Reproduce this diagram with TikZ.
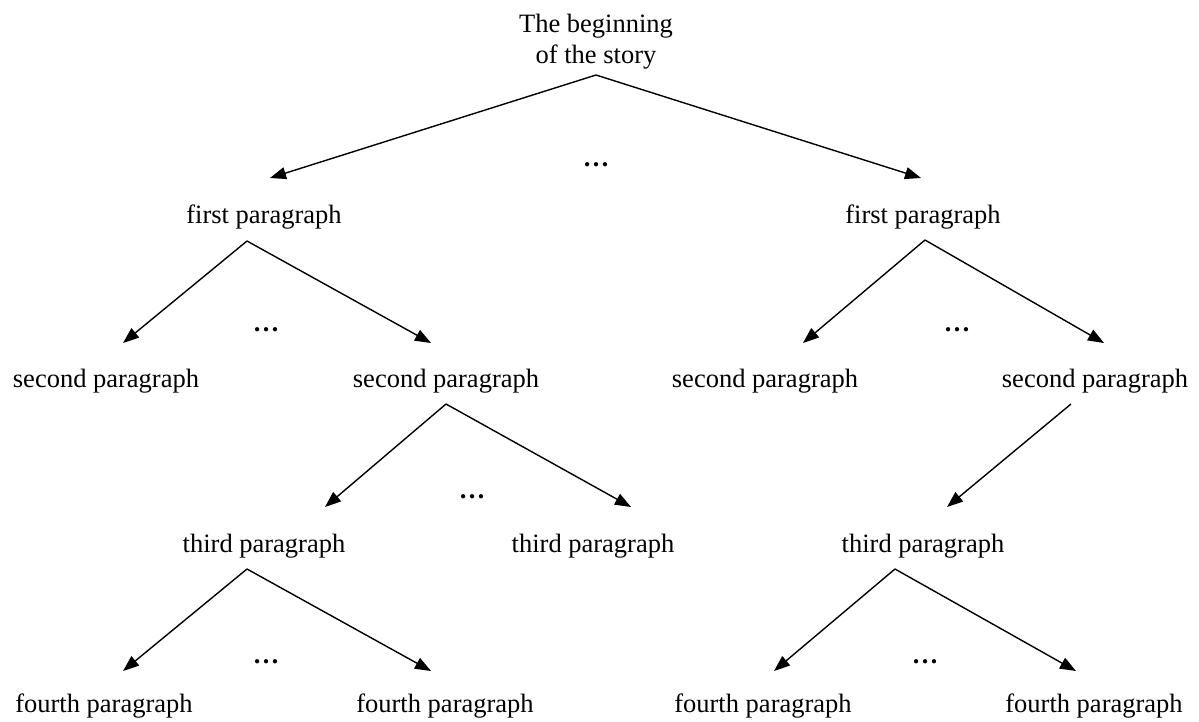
\documentclass[tikz,border=0pt]{standalone}
\usepackage{fontspec}
\setmainfont{Liberation Serif}
\usetikzlibrary{arrows.meta}
\tikzset{
  lbl/.style={anchor=base, inner sep=0pt, font=\fontsize{26.5}{31}\selectfont},
  dotsl/.style={anchor=base, inner sep=0pt, font=\fontsize{26.5}{31}\selectfont\bfseries},
  conn/.style={line width=1.4pt, -{Triangle[length=16pt,width=12pt]}}
}
\begin{document}
\begin{tikzpicture}[x=1pt,y=-1pt]
\useasboundingbox[fill=white] (0,0) rectangle (1199,721);
% nodes
\node[lbl] (root) at (596,32) {\setlength\tabcolsep{0pt}\begin{tabular}[t]{c}The beginning\\of the story\end{tabular}};
\node[lbl] (fpL) at (264,223) {first paragraph};
\node[lbl] (fpR) at (923,223) {first paragraph};
\node[lbl] (spA) at (106,387) {second paragraph};
\node[lbl] (spB) at (446,387) {second paragraph};
\node[lbl] (spC) at (765,387) {second paragraph};
\node[lbl] (spD) at (1095,387) {second paragraph};
\node[lbl] (tpA) at (264,552) {third paragraph};
\node[lbl] (tpB) at (593,552) {third paragraph};
\node[lbl] (tpC) at (923,552) {third paragraph};
\node[lbl] (fhA) at (104,712) {fourth paragraph};
\node[lbl] (fhB) at (445,712) {fourth paragraph};
\node[lbl] (fhC) at (763,712) {fourth paragraph};
\node[lbl] (fhD) at (1094,712) {fourth paragraph};
% ellipses
\node[dotsl] (d0) at (596,166) {…};
\node[dotsl] (d1) at (266,331) {…};
\node[dotsl] (d2) at (957,331) {…};
\node[dotsl] (d3) at (472,498) {…};
\node[dotsl] (d4) at (266,663) {…};
\node[dotsl] (d5) at (925,663) {…};
% connector end points
\coordinate (root-o) at (596,75);
\coordinate (fpL-i) at (270,178);
\coordinate (fpR-i) at (921,178);
\coordinate (fpL-o) at (247,241);
\coordinate (fpR-o) at (925,240);
\coordinate (spA-i) at (123,343);
\coordinate (spB-i) at (431,343);
\coordinate (spC-i) at (803,343);
\coordinate (spD-i) at (1104,343);
\coordinate (spB-o) at (446,404);
\coordinate (spD-o) at (1071,404);
\coordinate (tpA-i) at (325,507);
\coordinate (tpB-i) at (631,507);
\coordinate (tpC-i) at (947,507);
\coordinate (tpA-o) at (247,569);
\coordinate (tpC-o) at (895,569);
\coordinate (fhA-i) at (123,671);
\coordinate (fhB-i) at (431,671);
\coordinate (fhC-i) at (774,671);
\coordinate (fhD-i) at (1076,671);
% connectors
\draw[conn] (root-o) -- (fpL-i);
\draw[conn] (root-o) -- (fpR-i);
\draw[conn] (fpL-o) -- (spA-i);
\draw[conn] (fpL-o) -- (spB-i);
\draw[conn] (fpR-o) -- (spC-i);
\draw[conn] (fpR-o) -- (spD-i);
\draw[conn] (spB-o) -- (tpA-i);
\draw[conn] (spB-o) -- (tpB-i);
\draw[conn] (spD-o) -- (tpC-i);
\draw[conn] (tpA-o) -- (fhA-i);
\draw[conn] (tpA-o) -- (fhB-i);
\draw[conn] (tpC-o) -- (fhC-i);
\draw[conn] (tpC-o) -- (fhD-i);
\end{tikzpicture}
\end{document}
